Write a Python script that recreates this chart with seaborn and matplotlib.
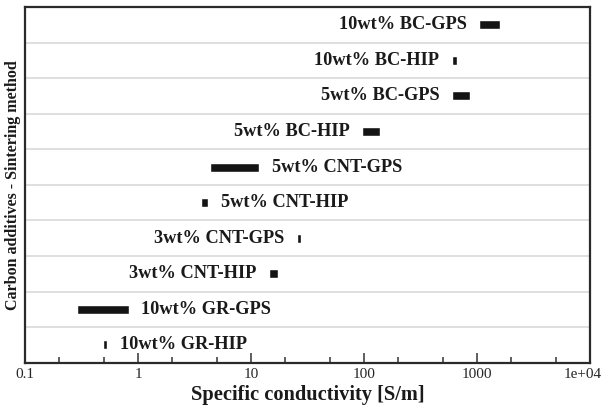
import matplotlib
matplotlib.use("Agg")
import matplotlib.pyplot as plt
import matplotlib.ticker as mticker
import matplotlib.transforms as mtransforms
import seaborn as sns
import pandas as pd
import numpy as np

labels = ["10wt% BC-GPS", "10wt% BC-HIP", "5wt% BC-GPS", "5wt% BC-HIP",
          "5wt% CNT-GPS", "5wt% CNT-HIP", "3wt% CNT-GPS", "3wt% CNT-HIP",
          "10wt% GR-GPS", "10wt% GR-HIP"]
low = [1050, 600, 600, 97, 4.3, 3.6, 25.5, 14.4, 0.29, 0.495]
high = [1610, 662, 870, 139, 11.8, 4.2, 27.8, 17.5, 0.83, 0.535]
label_side = ["left", "left", "left", "left", "right", "right", "left", "left", "right", "right"]
tick_values = [0.1, 1, 10, 100, 1000, 10000]
tick_labels = ["0.1", "1", "10", "100", "1000", "1e+04"]

df = pd.DataFrame({"label": labels, "low": low, "high": high})
df["width"] = df["high"] - df["low"]

sns.set_theme(style="white")
plt.rcParams["font.family"] = ["Liberation Serif", "DejaVu Serif"]

fig, ax = plt.subplots(figsize=(6.04, 4.11), dpi=100)
fig.subplots_adjust(left=0.0414, right=0.9768, top=0.983, bottom=0.1175)

ax.set_xscale("log")
ax.barh(y=np.arange(len(labels)), width=df["width"], left=df["low"], height=0.25,
        color="#141414", zorder=3)
sns.despine(ax=ax, top=False, right=False, left=False, bottom=False)
ax.set_ylim(len(labels) - 0.5, -0.5)
ax.set_xlim(0.1, 10000)

for i in range(len(labels) - 1):
    ax.axhline(i + 0.5, color="#dcdcdc", lw=1.3, zorder=1)

for i, (lab, lo, hi, side) in enumerate(zip(labels, low, high, label_side)):
    if side == "left":
        ax.annotate(lab, (lo, i), xytext=(-9, 0), textcoords="offset points",
                    ha="right", va="center", fontsize=13.2, fontweight="bold", color="#1a1a1a")
    else:
        ax.annotate(lab, (hi, i), xytext=(9, 0), textcoords="offset points",
                    ha="left", va="center", fontsize=13.2, fontweight="bold", color="#1a1a1a")

ax.set_yticks([])
ax.xaxis.set_major_locator(mticker.FixedLocator(tick_values))
ax.xaxis.set_major_formatter(mticker.FixedFormatter(tick_labels))
ax.xaxis.set_minor_locator(mticker.LogLocator(base=10, subs=(2, 5)))
ax.xaxis.set_minor_formatter(mticker.NullFormatter())
ax.tick_params(axis="x", which="major", direction="in", length=7, width=1.1,
               color="#333333", labelsize=11, pad=4, bottom=True)
ax.tick_params(axis="x", which="minor", direction="in", length=4.5, width=1.1,
               color="#333333", bottom=True)
for sp in ax.spines.values():
    sp.set_color("#2a2a2a")
    sp.set_linewidth(1.6)

ax.set_xlabel("Specific conductivity [S/m]", fontsize=14.7, fontweight="bold",
              color="#1a1a1a", labelpad=3)
ax.set_ylabel("Carbon additives - Sintering method", fontsize=11.5, fontweight="bold",
              color="#1a1a1a", labelpad=3)

fig.canvas.draw()
last = ax.get_xticklabels()[-1]
last.set_transform(last.get_transform() + mtransforms.ScaledTranslation(-7 / 100, 0, fig.dpi_scale_trans))

fig.savefig("out.png", dpi=100)
